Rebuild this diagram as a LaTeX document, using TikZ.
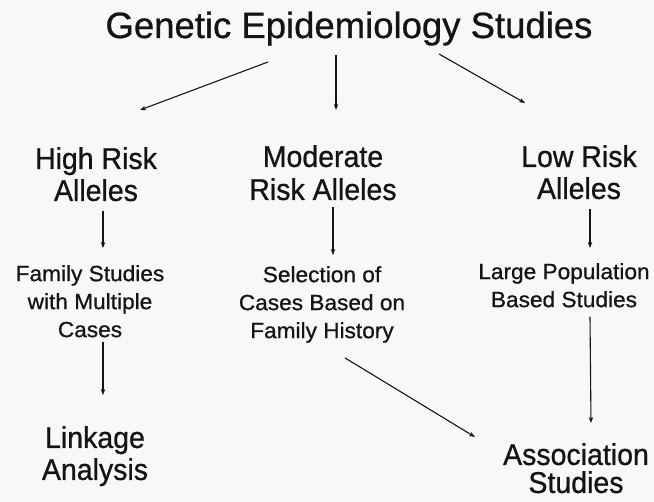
\documentclass[tikz,border=0pt]{standalone}
\usepackage{fontspec}
\setmainfont{Liberation Sans}[FakeBold=0.8]
\newfontfamily\riskfont{Liberation Sans}[FakeStretch=0.95,FakeBold=0.8]
\newfontfamily\studyfont{Liberation Sans}[FakeStretch=1.03,FakeBold=0.8]
\usepackage{tikz}
\usetikzlibrary{arrows.meta}
\usepackage{xcolor}
\definecolor{inkblack}{HTML}{141414}
\definecolor{paper}{HTML}{F8F8F6}

\tikzset{
  bigtext/.style={inner sep=0pt, align=center, text=inkblack, font=\riskfont\fontsize{30}{32}\selectfont},
  smalltext/.style={inner sep=0pt, align=center, text=inkblack, font=\studyfont\fontsize{22}{28}\selectfont},
  arr/.style={draw=inkblack, line width=1.1pt, -{Stealth[length=6pt,width=4.5pt]}}
}

\begin{document}
\begin{tikzpicture}[x=1pt,y=-1pt]
        \fill[paper] (0,0) rectangle (654,502);
        \useasboundingbox (0,0) rectangle (654,502);
        % top
        \node[inner sep=0pt, text=inkblack, font=\fontsize{36.5}{40}\selectfont, anchor=base] (title) at (349,38) {Genetic Epidemiology Studies};
        % three kinds of alleles
        \node[bigtext, anchor=north] (high) at (96,147) {High Risk\\Alleles};
        \node[bigtext, anchor=north, font=\riskfont\fontsize{30}{33}\selectfont] (moderate) at (323,145) {Moderate\\Risk Alleles};
        \node[bigtext, anchor=north] (low) at (579,145) {Low Risk\\Alleles};
        % study designs
        \node[smalltext, anchor=north] (family) at (90,265) {Family Studies\\with Multiple\\Cases};
        \node[smalltext, anchor=north] (selection) at (322,266) {Selection of\\Cases Based on\\Family History};
        \node[smalltext, anchor=north] (population) at (564,263) {Large Population\\Based Studies};
        % analyses
        \node[bigtext, anchor=north] (linkage) at (95,426) {Linkage\\Analysis};
        \node[bigtext, anchor=north, font=\riskfont\fontsize{30}{28}\selectfont] (association) at (576,443) {Association\\Studies};
        % arrows
        \draw[arr] ([shift={(-81pt,-24pt)}]title.base) -- ([shift={(44pt,37pt)}]high.north);
        \draw[arr] ([shift={(-13pt,-17pt)}]title.base) -- ([shift={(13pt,35pt)}]moderate.north);
        \draw[arr] ([shift={(90pt,-16pt)}]title.base) -- ([shift={(-54pt,42pt)}]low.north);
        \draw[arr] ([shift={(7pt,-10pt)}]high.south) -- ([shift={(13pt,17pt)}]family.north);
        \draw[arr] ([shift={(10pt,-7pt)}]moderate.south) -- ([shift={(11pt,11pt)}]selection.north);
        \draw[arr] ([shift={(11pt,-10pt)}]low.south) -- ([shift={(26pt,15pt)}]population.north);
        \draw[arr] ([shift={(13pt,-4pt)}]family.south) -- ([shift={(8pt,31pt)}]linkage.north);
        \draw[arr] ([shift={(23pt,-15pt)}]selection.south) -- ([shift={(-101pt,6pt)}]association.north);
        \draw[arr] ([shift={(26pt,-9pt)}]population.south) -- ([shift={(15pt,20pt)}]association.north);
      \end{tikzpicture}
\end{document}
